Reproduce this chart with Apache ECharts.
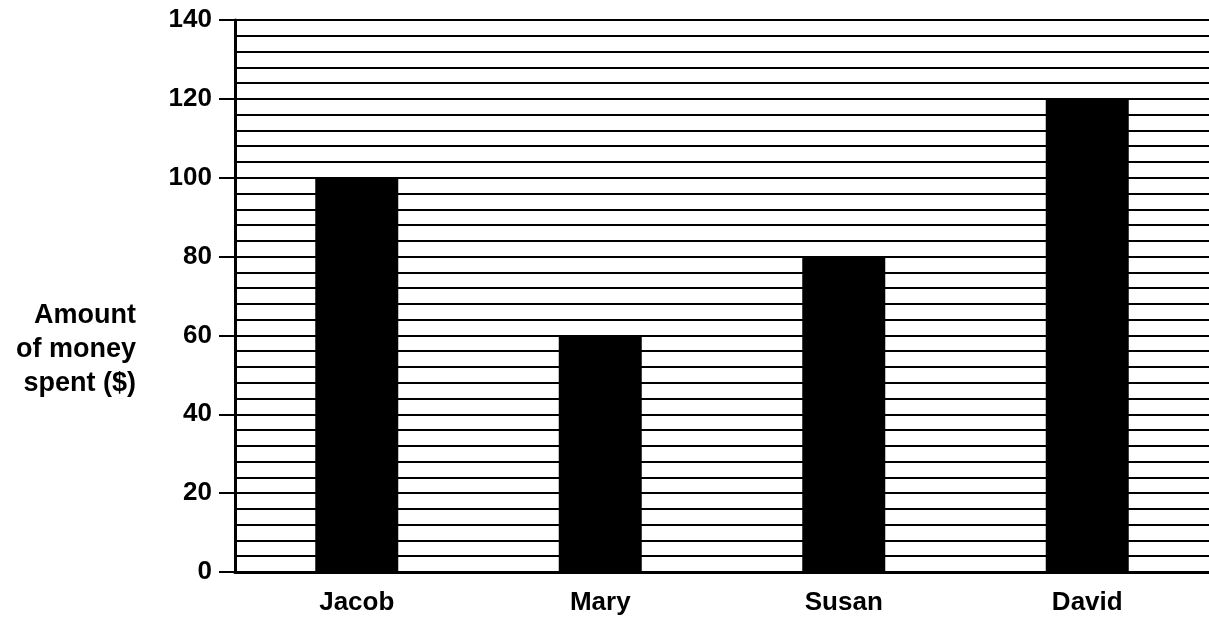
<!DOCTYPE html>
<html><head><meta charset="utf-8">
<script src="https://cdn.jsdelivr.net/npm/echarts@6/dist/echarts.min.js"></script>
<style>html,body{margin:0;padding:0;background:#fff}#c{width:1209px;height:620px}</style>
</head><body><div id="c"></div>
<script>
const categories = ['Jacob', 'Mary', 'Susan', 'David'];
const amounts = [100, 60, 80, 120];
const yTicks = [0, 20, 40, 60, 80, 100, 120, 140];

const FONT = '"Liberation Sans", Arial, sans-serif';
const chart = echarts.init(document.getElementById('c'));
chart.setOption({
  animation: false,
  backgroundColor: '#fff',
  grid: { left: 235, right: -5, top: 20, bottom: 48, containLabel: false },
  graphic: [{
    type: 'text', x: 136, y: 350,
    style: { text: 'Amount\nof money\nspent ($)', fontSize: 27, fontWeight: 'bold', fontFamily: FONT,
      fill: '#000', align: 'right', verticalAlign: 'middle', lineHeight: 34 }
  }],
  xAxis: {
    type: 'category', data: categories,
    axisLine: { lineStyle: { color: '#000', width: 3 } },
    axisTick: { show: false },
    axisLabel: { color: '#000', fontSize: 26, fontWeight: 'bold', fontFamily: FONT, margin: 18 }
  },
  yAxis: {
    type: 'value', min: yTicks[0], max: yTicks[yTicks.length - 1], interval: 20,
    axisLine: { show: true, lineStyle: { color: '#000', width: 3 } },
    axisTick: { show: true, length: 16, lineStyle: { color: '#000', width: 2 } },
    axisLabel: { color: '#000', fontSize: 26, fontWeight: 'bold', fontFamily: FONT, margin: 23 },
    splitLine: { show: true, lineStyle: { color: '#000', width: 2 } },
    minorTick: { show: true, splitNumber: 5, length: 0 },
    minorSplitLine: { show: true, lineStyle: { color: '#000', width: 2 } }
  },
  series: [{
    type: 'bar', data: amounts, barWidth: 83,
    itemStyle: { color: '#000' }
  }]
});
</script></body></html>
